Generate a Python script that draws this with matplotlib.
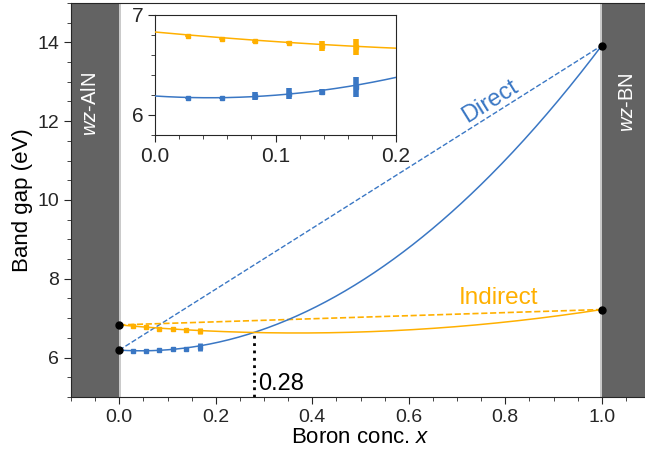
import numpy as np
import matplotlib
matplotlib.use("Agg")
import matplotlib.pyplot as plt
from matplotlib.ticker import MultipleLocator

plt.rcParams['font.family'] = ['Liberation Sans', 'DejaVu Sans']
plt.rcParams['mathtext.fontset'] = 'custom'
plt.rcParams['mathtext.it'] = 'Liberation Sans:italic'
plt.rcParams['mathtext.rm'] = 'Liberation Sans'
plt.rcParams['text.color'] = '0.15'
plt.rcParams['axes.edgecolor'] = '0.15'
plt.rcParams['xtick.color'] = '0.15'
plt.rcParams['ytick.color'] = '0.15'

BLUE = '#3a77c4'
ORANGE = '#ffb000'
GREY = '#636363'

# end members (AlN at x=0, BN at x=1) and bowing parameters
E_AlN_dir = 6.19
E_BN_dir = 13.92
E_AlN_ind = 6.83
E_BN_ind = 7.22
b_dir = 8.5
b_ind = 1.5
x_cross = 0.28

# supercell results
x_sc = np.arange(1, 7) / 36
E_dir = [6.17, 6.17, 6.19, 6.215, 6.23, 6.28]
err_dir = [0.01, 0.01, 0.04, 0.06, 0.03, 0.10]
E_ind = [6.79, 6.765, 6.735, 6.725, 6.69, 6.68]
err_ind = [0.01, 0.01, 0.02, 0.02, 0.05, 0.08]


def bowing(x, e0, e1, b):
    return (1 - x) * e0 + x * e1 - b * x * (1 - x)


xf = np.linspace(0, 1, 300)
fit_dir = bowing(xf, E_AlN_dir, E_BN_dir, b_dir)
fit_ind = bowing(xf, E_AlN_ind, E_BN_ind, b_ind)
e_cross = bowing(x_cross, E_AlN_dir, E_BN_dir, b_dir)

fig = plt.figure(figsize=(6.45, 4.59), dpi=100)
ax = fig.add_axes([71 / 645, 62 / 459, 579 / 645, 394 / 459])


def draw(a, ms, elw):
    a.plot(xf, fit_dir, color=BLUE, lw=1.1, zorder=3)
    a.plot(xf, fit_ind, color=ORANGE, lw=1.1, zorder=3)
    a.errorbar(x_sc, E_dir, yerr=err_dir, fmt='s', color=BLUE, ms=ms,
               elinewidth=elw, capsize=0, zorder=4)
    a.errorbar(x_sc, E_ind, yerr=err_ind, fmt='s', color=ORANGE, ms=ms,
               elinewidth=elw, capsize=0, zorder=4)


ax.axvspan(-0.1, 0, color=GREY, lw=0, zorder=1)
ax.axvspan(1, 1.1, color=GREY, lw=0, zorder=1)
ax.axvline(0.002, color='#c0c0c0', lw=1.2, zorder=1.5)
ax.axvline(0.998, color='#c0c0c0', lw=1.2, zorder=1.5)

ax.plot([0, 1], [E_AlN_dir, E_BN_dir], '--', color=BLUE, lw=1, zorder=3)
ax.plot([0, 1], [E_AlN_ind, E_BN_ind], '--', color=ORANGE, lw=1.2, zorder=3)
draw(ax, 3, 3.5)
ax.plot([0, 0, 1, 1], [E_AlN_dir, E_AlN_ind, E_BN_dir, E_BN_ind], 'o',
        color='black', ms=5, zorder=6, lw=0)
ax.plot([x_cross, x_cross], [5, e_cross], ':', color='black', lw=2, zorder=5)

ax.text(x_cross + 0.008, 5.05, '0.28', fontsize=17, color='black', va='bottom')
ax.text(0.768, 12.5, 'Direct', color=BLUE, fontsize=17, rotation=32,
        ha='center', va='center')
ax.text(0.786, 7.5, 'Indirect', color=ORANGE, fontsize=17.5,
        ha='center', va='center')
ax.text(-0.06, 12.43, r'$\it{wz}$-AlN', color='white', fontsize=14.5,
        rotation=90, ha='center', va='center')
ax.text(1.053, 12.48, r'$\it{wz}$-BN', color='white', fontsize=14.5,
        rotation=90, ha='center', va='center')

ax.set_xlim(-0.1, 1.1)
ax.set_ylim(5, 15)
ax.xaxis.set_major_locator(MultipleLocator(0.2))
ax.xaxis.set_minor_locator(MultipleLocator(0.05))
ax.yaxis.set_major_locator(MultipleLocator(2))
ax.yaxis.set_minor_locator(MultipleLocator(0.5))
ax.tick_params(which='major', length=5, labelsize=14, direction='out')
ax.tick_params(which='minor', length=3, direction='out')
ax.set_xlabel(r'Boron conc. $\it{x}$', fontsize=16, labelpad=1)
ax.set_ylabel('Band gap (eV)', fontsize=16, labelpad=3)

# inset
ins = fig.add_axes([155 / 645, (459 - 135) / 459, 241 / 645, 120 / 459])
draw(ins, 3.5, 4)
ins.set_xlim(0, 0.2)
ins.set_ylim(5.8, 7.0)
ins.xaxis.set_major_locator(MultipleLocator(0.1))
ins.xaxis.set_minor_locator(MultipleLocator(0.02))
ins.yaxis.set_major_locator(MultipleLocator(1))
ins.yaxis.set_minor_locator(MultipleLocator(0.2))
ins.tick_params(which='major', length=5, labelsize=15, direction='out')
ins.tick_params(which='minor', length=3, direction='out')

fig.savefig('out.png', dpi=100)
